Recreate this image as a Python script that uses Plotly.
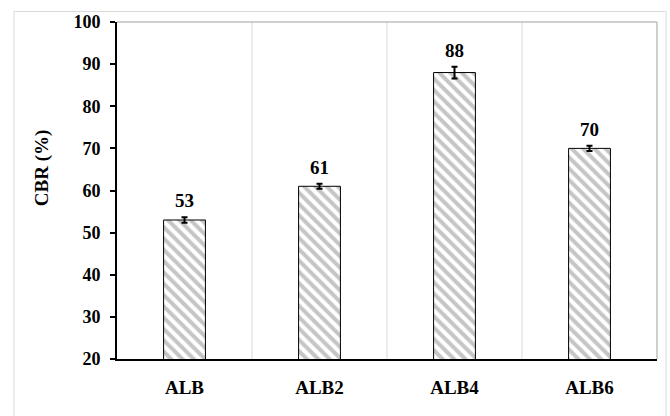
import plotly.graph_objects as go

# CBR results per mix
mixes = ["ALB", "ALB2", "ALB4", "ALB6"]
cbr = [53, 61, 88, 70]
cbr_err = [0.65, 0.6, 1.4, 0.65]
labels = ["53", "61", "88", "70"]

FONT = "Liberation Serif"

fig = go.Figure()

fig.add_trace(go.Bar(
    x=mixes,
    y=cbr,
    width=0.31,
    marker=dict(
        color="white",
        line=dict(color="black", width=1),
        pattern=dict(shape="\\", fgcolor="#8c8c8c", bgcolor="white",
                     size=8, solidity=0.5),
    ),
    error_y=dict(type="data", array=cbr_err, visible=True,
                 color="black", thickness=2, width=3),
    showlegend=False,
))

# value labels above each bar's error bar
for m, v, e, t in zip(mixes, cbr, cbr_err, labels):
    fig.add_annotation(x=m, y=v + e, text="<b>%s</b>" % t, showarrow=False,
                       yanchor="bottom", yshift=4,
                       font=dict(family=FONT, size=19, color="black"))

# y-axis title, placed slightly above the axis midpoint
fig.add_annotation(xref="paper", yref="paper", x=-0.139, y=0.569,
                   text="<b>CBR (%)</b>", textangle=-90, showarrow=False,
                   xanchor="center", yanchor="middle",
                   font=dict(family=FONT, size=19, color="black"))

# category separators
for xb in [0.5, 1.5, 2.5]:
    fig.add_shape(type="line", xref="x", yref="paper", x0=xb, x1=xb, y0=0, y1=1,
                  line=dict(color="#d9d9d9", width=1), layer="below")

# top / right frame of plot area
fig.add_shape(type="line", xref="paper", yref="paper", x0=0, x1=1, y0=1, y1=1,
              line=dict(color="#bfbfbf", width=1.5))
fig.add_shape(type="line", xref="paper", yref="paper", x0=1, x1=1, y0=0, y1=1,
              line=dict(color="#bfbfbf", width=1.5))

# outer chart border
fig.add_shape(type="rect", xref="paper", yref="paper",
              x0=-0.1907, x1=1.0167, y0=-0.3, y1=1.031,
              line=dict(color="#d9d9d9", width=1), fillcolor="rgba(0,0,0,0)")

fig.update_layout(
    width=670, height=416,
    margin=dict(l=117, r=13, t=20, b=57),
    paper_bgcolor="white",
    plot_bgcolor="white",
    font=dict(family=FONT, color="black"),
    xaxis=dict(
        range=[-0.5, 3.5],
        showline=True, linecolor="black", linewidth=2,
        ticks="", showgrid=False, ticklabelstandoff=10,
        tickfont=dict(family=FONT, size=19, color="black"),
        tickprefix="<b>", ticksuffix="</b>",
    ),
    yaxis=dict(
        range=[20, 100], dtick=10,
        showline=True, linecolor="black", linewidth=2,
        ticks="outside", ticklen=5, tickwidth=2, tickcolor="black",
        showgrid=False, zeroline=False, ticklabelstandoff=6,
        tickfont=dict(family=FONT, size=18, color="black"),
        tickprefix="<b>", ticksuffix="</b>",
    ),
)

fig.write_html("out.html")
